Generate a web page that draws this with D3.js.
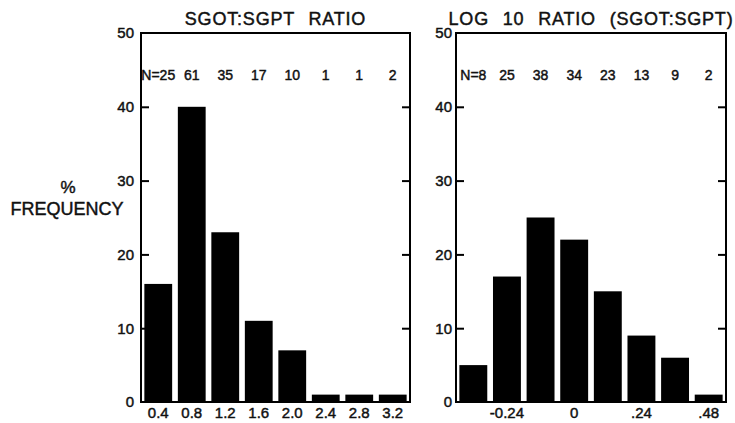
<!DOCTYPE html>
<html>
<head>
<meta charset="utf-8">
<script src="https://cdn.jsdelivr.net/npm/d3@7"></script>
<style>
  body { margin: 0; background: #fff; }
  text { font-family: "Liberation Sans", Arial, Helvetica, sans-serif; fill: #111; stroke: #111; stroke-width: 0.45px; }
</style>
</head>
<body>
<script>
// left panel: SGOT:SGPT ratio
var ratioBins = ["0.4", "0.8", "1.2", "1.6", "2.0", "2.4", "2.8", "3.2"]
var ratioFreq = [16, 40, 23, 11, 7, 1, 1, 1]
var ratioN = ["N=25", "61", "35", "17", "10", "1", "1", "2"]

// right panel: log10 ratio
var logBins = ["b1", "b2", "b3", "b4", "b5", "b6", "b7", "b8"]
var logFreq = [5, 17, 25, 22, 15, 9, 6, 1]
var logN = ["N=8", "25", "38", "34", "23", "13", "9", "2"]
var logTickLabels = {b2: "-0.24", b4: "0", b6: ".24", b8: ".48"}

var yTicks = [0, 10, 20, 30, 40, 50]

var width = 735, height = 423

var svg = d3.select("body").append("svg")
  .attr("width", width)
  .attr("height", height)

var y = d3.scaleLinear().domain([0, 50]).range([402, 33])

function drawPanel(x0, x1, bins, freq, nLabels, title, tickText, labelGap) {
  var g = svg.append("g")

  var x = d3.scaleBand()
    .domain(bins)
    .range([x0, x1])
    .paddingInner(0.17)
    .paddingOuter(0.1)

  // bars
  g.selectAll("rect.bar")
    .data(bins)
    .enter()
    .append("rect")
    .attr("class", "bar")
    .attr("x", function(d) { return x(d) })
    .attr("y", function(d, i) { return y(freq[i]) })
    .attr("width", x.bandwidth())
    .attr("height", function(d, i) { return y(0) - y(freq[i]) })
    .attr("fill", "#000")

  // frame
  g.append("rect")
    .attr("x", x0)
    .attr("y", y(50))
    .attr("width", x1 - x0)
    .attr("height", y(0) - y(50))
    .attr("fill", "none")
    .attr("stroke", "#000")
    .attr("stroke-width", 2)

  // ticks pointing inward on both sides
  var yl = d3.axisRight(y).tickValues(yTicks.slice(1, -1)).tickSize(8).tickFormat("")
  g.append("g").attr("transform", "translate(" + x0 + ",0)").call(yl)
  var yr = d3.axisLeft(y).tickValues(yTicks.slice(1, -1)).tickSize(8).tickFormat("")
  g.append("g").attr("transform", "translate(" + x1 + ",0)").call(yr)
  g.selectAll(".domain").remove()
  g.selectAll(".tick line").attr("stroke", "#000").attr("stroke-width", 2)

  // y tick labels
  g.selectAll("text.ylab")
    .data(yTicks)
    .enter()
    .append("text")
    .attr("class", "ylab")
    .attr("x", x0 - labelGap)
    .attr("y", function(d) { return y(d) })
    .attr("dy", "0.36em")
    .attr("text-anchor", "end")
    .attr("font-size", 15)
    .text(function(d) { return d })

  // N counts
  g.selectAll("text.nlab")
    .data(bins)
    .enter()
    .append("text")
    .attr("class", "nlab")
    .attr("x", function(d) { return x(d) + x.bandwidth() / 2 })
    .attr("y", 80)
    .attr("text-anchor", "middle")
    .attr("font-size", 14)
    .text(function(d, i) { return nLabels[i] })

  // x labels
  g.selectAll("text.xlab")
    .data(bins.filter(function(d) { return tickText(d) !== null }))
    .enter()
    .append("text")
    .attr("class", "xlab")
    .attr("x", function(d) { return x(d) + x.bandwidth() / 2 })
    .attr("y", 418)
    .attr("text-anchor", "middle")
    .attr("font-size", 15)
    .text(function(d) { return tickText(d) })

  // title
  g.append("text")
    .attr("x", (x0 + x1) / 2)
    .attr("y", 25)
    .attr("text-anchor", "middle")
    .attr("font-size", 18)
    .style("word-spacing", "8px")
    .style("letter-spacing", "0.8px")
    .text(title)
}

drawPanel(141, 410, ratioBins, ratioFreq, ratioN, "SGOT:SGPT RATIO",
  function(d) { return d }, 7)
drawPanel(456, 726, logBins, logFreq, logN, "LOG 10 RATIO (SGOT:SGPT)",
  function(d) { return logTickLabels[d] === undefined ? null : logTickLabels[d] }, 4)

// y axis title
svg.append("text")
  .attr("x", 68)
  .attr("y", 193)
  .attr("text-anchor", "middle")
  .attr("font-size", 17)
  .text("%")
svg.append("text")
  .attr("x", 67)
  .attr("y", 215)
  .attr("text-anchor", "middle")
  .attr("font-size", 18)
  .text("FREQUENCY")
</script>
</body>
</html>
